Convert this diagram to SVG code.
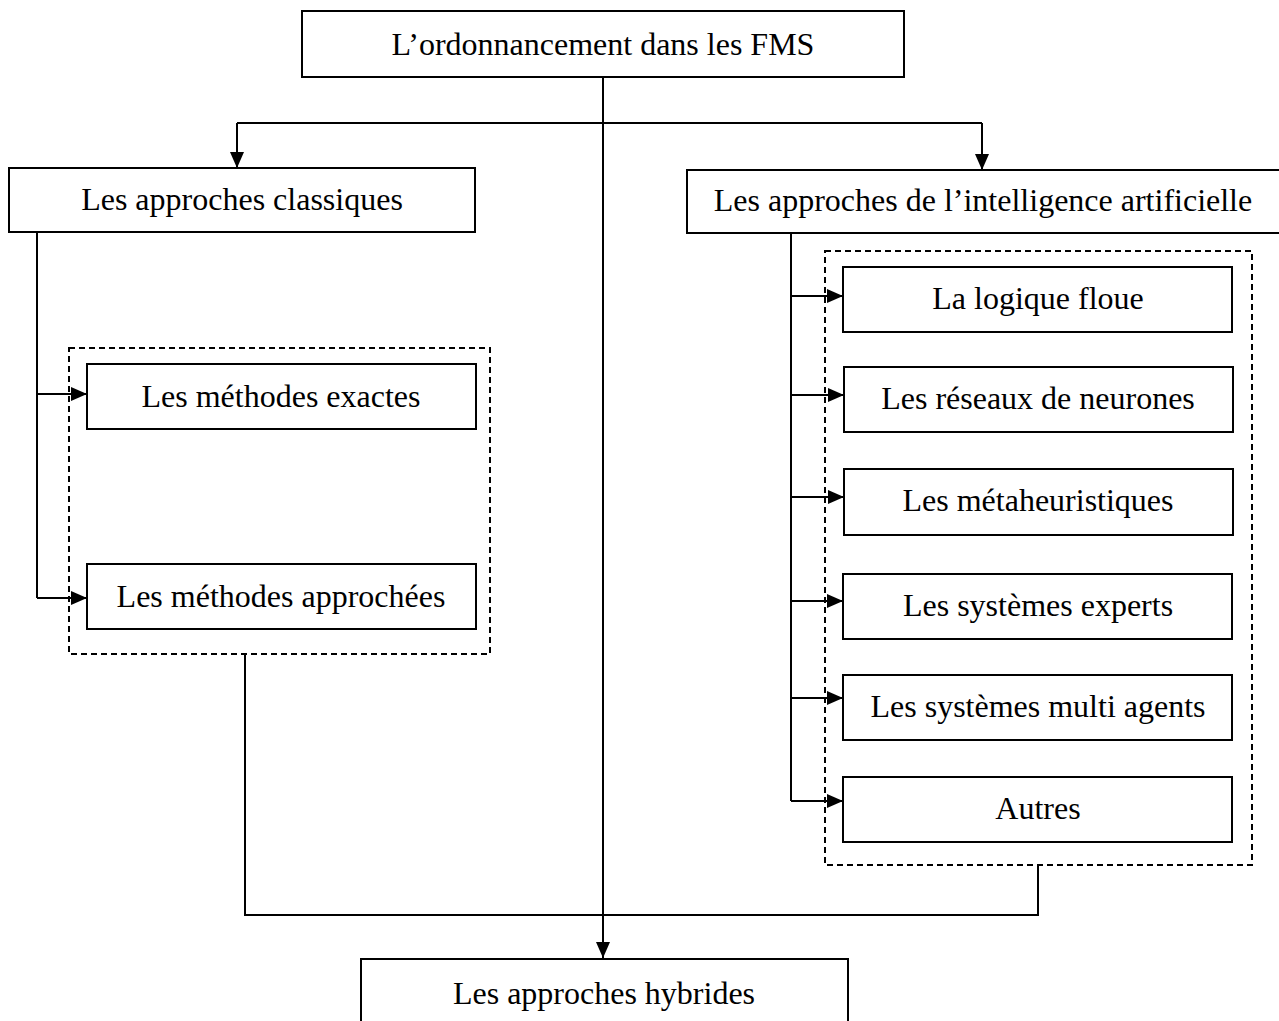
<svg xmlns="http://www.w3.org/2000/svg" width="1279" height="1021" viewBox="0 0 1279 1021">
  <style>
    .box { fill: #fff; stroke: #000; stroke-width: 2; }
    .group { fill: none; stroke: #000; stroke-width: 2; stroke-dasharray: 6 4; }
    .lbl { font-family: "Liberation Serif", "Times New Roman", serif; font-size: 32px; fill: #000; text-anchor: middle; }
    .wire { fill: none; stroke: #000; stroke-width: 2; }
    .arrow { fill: none; stroke: #000; stroke-width: 2; marker-end: url(#tip); }
  </style>
  <defs>
    <marker id="tip" viewBox="0 0 16 14" refX="16" refY="7" markerWidth="16" markerHeight="14" markerUnits="userSpaceOnUse" orient="auto">
      <path d="M0,0 L16,7 L0,14 Z" fill="#000"/>
    </marker>
  </defs>
  <rect width="1279" height="1021" fill="#fff"/>

  <!-- dashed groupings -->
  <rect class="group" x="69" y="348" width="421" height="306"/>
  <rect class="group" x="825" y="251" width="427" height="614"/>

  <g id="connectors">
    <!-- root fan-out -->
    <path class="wire" d="M603,77 V958"/>
    <path class="arrow" d="M603,900 V958"/>
    <path class="wire" d="M237,123 H982"/>
    <path class="arrow" d="M237,123 V168"/>
    <path class="arrow" d="M982,123 V170"/>
    <!-- classic approaches branches -->
    <path class="wire" d="M37,232 V598"/>
    <path class="arrow" d="M37,394 H87"/>
    <path class="arrow" d="M37,598 H87"/>
    <!-- AI approaches branches -->
    <path class="wire" d="M791,233 V801"/>
    <path class="arrow" d="M791,296 H843"/>
    <path class="arrow" d="M791,395 H844"/>
    <path class="arrow" d="M791,497 H844"/>
    <path class="arrow" d="M791,601 H843"/>
    <path class="arrow" d="M791,698 H843"/>
    <path class="arrow" d="M791,801 H843"/>
    <!-- merge toward hybrid approaches -->
    <path class="wire" d="M245,654 V915 H1038 V865"/>
  </g>

  <g id="root">
    <rect class="box" x="302" y="11" width="602" height="66"/>
    <text class="lbl" x="603" y="55">L’ordonnancement dans les FMS</text>
  </g>
  <g id="classiques">
    <rect class="box" x="9" y="168" width="466" height="64"/>
    <text class="lbl" x="242" y="210">Les approches classiques</text>
  </g>
  <g id="ia">
    <rect class="box" x="687" y="170" width="600" height="63"/>
    <text class="lbl" x="983" y="211">Les approches de l’intelligence artificielle</text>
  </g>
  <g id="exactes">
    <rect class="box" x="87" y="364" width="389" height="65"/>
    <text class="lbl" x="281" y="407">Les méthodes exactes</text>
  </g>
  <g id="approchees">
    <rect class="box" x="87" y="564" width="389" height="65"/>
    <text class="lbl" x="281" y="607">Les méthodes approchées</text>
  </g>
  <g id="floue">
    <rect class="box" x="843" y="267" width="389" height="65"/>
    <text class="lbl" x="1038" y="309">La logique floue</text>
  </g>
  <g id="neurones">
    <rect class="box" x="844" y="367" width="389" height="65"/>
    <text class="lbl" x="1038" y="409">Les réseaux de neurones</text>
  </g>
  <g id="metaheuristiques">
    <rect class="box" x="844" y="469" width="389" height="66"/>
    <text class="lbl" x="1038" y="511">Les métaheuristiques</text>
  </g>
  <g id="experts">
    <rect class="box" x="843" y="574" width="389" height="65"/>
    <text class="lbl" x="1038" y="616">Les systèmes experts</text>
  </g>
  <g id="multiagents">
    <rect class="box" x="843" y="675" width="389" height="65"/>
    <text class="lbl" x="1038" y="717">Les systèmes multi agents</text>
  </g>
  <g id="autres">
    <rect class="box" x="843" y="777" width="389" height="65"/>
    <text class="lbl" x="1038" y="819">Autres</text>
  </g>
  <g id="hybrides">
    <rect class="box" x="361" y="959" width="487" height="80"/>
    <text class="lbl" x="604" y="1004">Les approches hybrides</text>
  </g>
</svg>
